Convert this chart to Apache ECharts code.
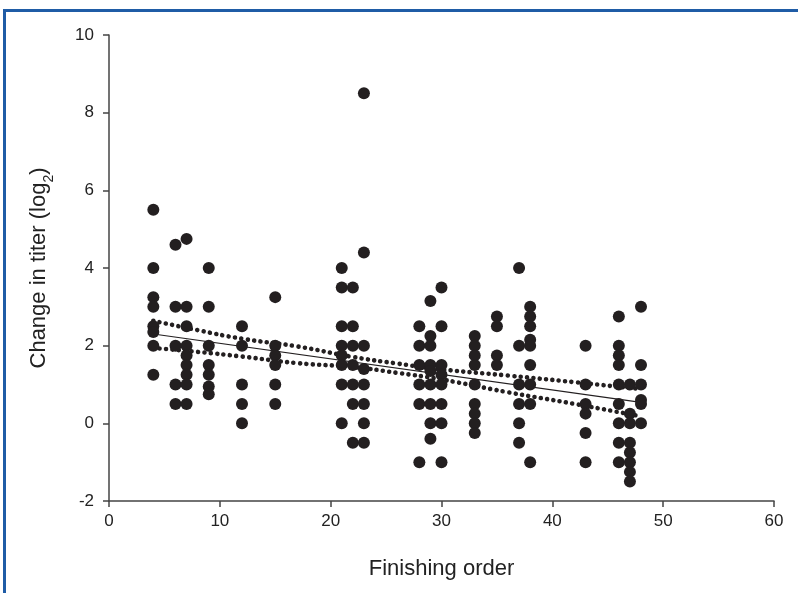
<!DOCTYPE html>
<html>
<head>
<meta charset="utf-8">
<script src="https://cdn.jsdelivr.net/npm/echarts@6/dist/echarts.min.js"></script>
<style>
  html, body { margin: 0; padding: 0; background: #fff; }
  #chart { width: 798px; height: 593px; }
</style>
</head>
<body>
<div id="chart"></div>
<script>
// Finishing order positions and the observed titer changes (log2) at each
var finishOrder = [4, 6, 7, 9, 12, 15, 21, 22, 23, 28, 29, 30, 33, 35, 37, 38, 43, 46, 47, 48];
var titerByOrder = [
  [5.5, 4.0, 3.25, 3.0, 2.5, 2.35, 2.0, 1.25],
  [4.6, 3.0, 2.0, 1.0, 0.5],
  [4.75, 3.0, 2.5, 2.0, 1.75, 1.5, 1.25, 1.0, 0.5],
  [4.0, 3.0, 2.0, 1.5, 1.25, 0.95, 0.75],
  [2.5, 2.0, 1.0, 0.5, 0.0],
  [3.25, 2.0, 1.75, 1.5, 1.0, 0.5],
  [4.0, 3.5, 2.5, 2.0, 1.75, 1.5, 1.0, 0.0],
  [3.5, 2.5, 2.0, 1.5, 1.0, 0.5, -0.5],
  [8.5, 4.4, 2.0, 1.4, 1.0, 0.5, 0.0, -0.5],
  [2.5, 2.0, 1.5, 1.0, 0.5, -1.0],
  [3.15, 2.25, 2.0, 1.5, 1.35, 1.0, 0.5, 0.0, -0.4],
  [3.5, 2.5, 1.5, 1.25, 1.0, 0.5, 0.0, -1.0],
  [2.25, 2.0, 1.75, 1.5, 1.0, 0.5, 0.25, 0.0, -0.25],
  [2.75, 2.5, 1.75, 1.5],
  [4.0, 2.0, 1.0, 0.5, 0.0, -0.5],
  [3.0, 2.75, 2.5, 2.15, 2.0, 1.5, 1.0, 0.5, -1.0],
  [2.0, 1.0, 0.5, 0.25, -0.25, -1.0],
  [2.75, 2.0, 1.75, 1.5, 1.0, 0.5, 0.0, -0.5, -1.0],
  [1.0, 0.25, 0.0, -0.5, -0.75, -1.0, -1.25, -1.5],
  [3.0, 1.5, 1.0, 0.6, 0.5, 0.0]
];

// Regression line
var fitX = [4, 48];
var fitY = [2.30, 0.54];

// Confidence band
var bandX = [4, 8, 12, 17, 22, 26, 30, 36, 42, 48];
var bandUpper = [2.64, 2.40, 2.18, 1.98, 1.71, 1.54, 1.39, 1.23, 1.06, 0.88];
var bandLower = [1.94, 1.84, 1.72, 1.55, 1.45, 1.30, 1.13, 0.80, 0.50, 0.18];

// Axis ticks
var xTicks = { min: 0, max: 60, step: 10 };
var yTicks = { min: -2, max: 10, step: 2 };

var xTitle = 'Finishing order';
var yTitleMain = 'Change in titer (log';
var yTitleSub = '2';

var points = [];
finishOrder.forEach(function (x, i) {
  titerByOrder[i].forEach(function (y) { points.push([x, y]); });
});
function zip(a, b) { return a.map(function (v, i) { return [v, b[i]]; }); }

var font = 'Liberation Sans, Arial, Helvetica, sans-serif';
var axisColor = '#444';
var dotStyle = { color: '#231f20', width: 4.6, type: [0.01, 6.4], cap: 'round' };

var chart = echarts.init(document.getElementById('chart'), null, { renderer: 'canvas' });
chart.setOption({
  animation: false,
  backgroundColor: '#fff',
  graphic: [
    { type: 'line', shape: { x1: 3, y1: 10.5, x2: 798, y2: 10.5 }, style: { stroke: '#1f5ca6', lineWidth: 3 } },
    { type: 'line', shape: { x1: 4.5, y1: 9, x2: 4.5, y2: 593 }, style: { stroke: '#1f5ca6', lineWidth: 3 } }
  ],
  grid: { left: 109, right: 24, top: 35, bottom: 92, containLabel: false },
  xAxis: {
    type: 'value',
    min: xTicks.min, max: xTicks.max, interval: xTicks.step,
    name: xTitle,
    nameLocation: 'middle',
    nameGap: 57,
    nameTextStyle: { fontSize: 22, color: '#222', fontFamily: font },
    axisLine: { show: true, onZero: false, lineStyle: { color: axisColor, width: 1.5 } },
    axisTick: { show: true, inside: false, length: 6, lineStyle: { color: axisColor, width: 1.5 } },
    axisLabel: { fontSize: 17, color: '#222', fontFamily: font, margin: 12 },
    splitLine: { show: false }
  },
  yAxis: {
    type: 'value',
    min: yTicks.min, max: yTicks.max, interval: yTicks.step,
    name: '{a|' + yTitleMain + '}{b|' + yTitleSub + '}{a|)}',
    nameLocation: 'middle',
    nameRotate: 90,
    nameGap: 59,
    nameTextStyle: {
      fontSize: 22, color: '#222', fontFamily: font,
      rich: {
        a: { fontSize: 22, color: '#222', fontFamily: font, lineHeight: 27, verticalAlign: 'bottom' },
        b: { fontSize: 14, color: '#222', fontFamily: font, lineHeight: 27, verticalAlign: 'bottom', padding: [0, 0, -6, 0] }
      }
    },
    axisLine: { show: true, onZero: false, lineStyle: { color: axisColor, width: 1.5 } },
    axisTick: { show: true, inside: false, length: 6, lineStyle: { color: axisColor, width: 1.5 } },
    axisLabel: { fontSize: 17, color: '#222', fontFamily: font, margin: 15 },
    splitLine: { show: false }
  },
  series: [
    {
      type: 'line',
      data: zip(bandX, bandUpper),
      smooth: true,
      symbol: 'none',
      lineStyle: dotStyle,
      z: 3
    },
    {
      type: 'line',
      data: zip(bandX, bandLower),
      smooth: true,
      symbol: 'none',
      lineStyle: dotStyle,
      z: 3
    },
    {
      type: 'line',
      data: zip(fitX, fitY),
      symbol: 'none',
      lineStyle: { color: '#231f20', width: 1.2 },
      z: 3
    },
    {
      type: 'scatter',
      data: points,
      symbol: 'circle',
      symbolSize: 12,
      itemStyle: { color: '#231f20', opacity: 1 },
      z: 4
    }
  ]
});
</script>
</body>
</html>
